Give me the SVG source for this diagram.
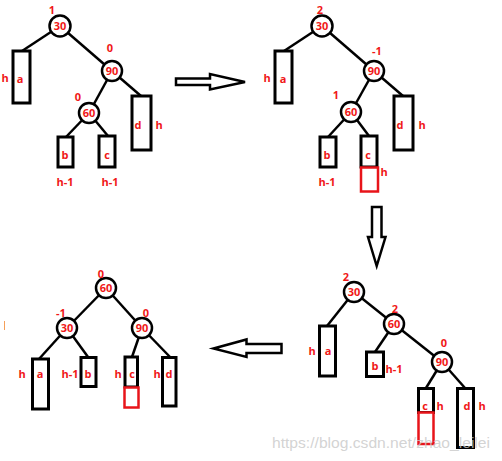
<svg xmlns="http://www.w3.org/2000/svg" width="502" height="461" viewBox="0 0 502 461">
<style>
.e{stroke:#000;stroke-width:2.5;fill:none}
.n{fill:#fff;stroke:#000;stroke-width:2.5}
.r{fill:#fff;stroke:#000;stroke-width:3}
.rr{fill:#fff;stroke:#e8141a;stroke-width:2.5}
.t{font-family:"Open Sans","Noto Sans",sans-serif;font-weight:bold;font-size:11px;fill:#f01818;text-anchor:middle}
.ar{fill:#fff;stroke:#000;stroke-width:2.5;stroke-linejoin:miter}
.wm{font-family:"Liberation Sans",Arial,sans-serif;font-size:15px;fill:#c8c8c8;fill-opacity:0.8}
</style>
<rect width="502" height="461" fill="#fff"/>
<g id="connectors">
<line class="e" x1="60" y1="26" x2="22" y2="51"/>
<line class="e" x1="60" y1="26" x2="112" y2="71"/>
<line class="e" x1="112" y1="71" x2="141" y2="96"/>
<line class="e" x1="112" y1="71" x2="89" y2="113"/>
<line class="e" x1="89" y1="113" x2="66" y2="137"/>
<line class="e" x1="89" y1="113" x2="108" y2="136"/>
<line class="e" x1="322" y1="26" x2="284" y2="51"/>
<line class="e" x1="322" y1="26" x2="374" y2="71"/>
<line class="e" x1="374" y1="71" x2="403" y2="96"/>
<line class="e" x1="374" y1="71" x2="351" y2="112"/>
<line class="e" x1="351" y1="112" x2="328" y2="137"/>
<line class="e" x1="351" y1="112" x2="369" y2="136"/>
<line class="e" x1="354" y1="292" x2="327" y2="326"/>
<line class="e" x1="354" y1="292" x2="394" y2="324"/>
<line class="e" x1="394" y1="324" x2="375" y2="352"/>
<line class="e" x1="394" y1="324" x2="442" y2="362"/>
<line class="e" x1="442" y1="362" x2="426" y2="388"/>
<line class="e" x1="442" y1="362" x2="465" y2="388"/>
<line class="e" x1="106" y1="288" x2="67" y2="328"/>
<line class="e" x1="106" y1="288" x2="142" y2="328"/>
<line class="e" x1="67" y1="328" x2="39" y2="359"/>
<line class="e" x1="67" y1="328" x2="88" y2="357"/>
<line class="e" x1="142" y1="328" x2="132" y2="357"/>
<line class="e" x1="142" y1="328" x2="170" y2="357"/>
</g>
<g id="tree1">
<g id="t1-n30"><circle class="n" cx="60" cy="26" r="10.5"/><text class="t" x="60" y="30">30</text><text class="t" x="52" y="14">1</text></g>
<g id="t1-n90"><circle class="n" cx="112" cy="71" r="10"/><text class="t" x="112" y="75">90</text><text class="t" x="110" y="52">0</text></g>
<g id="t1-n60"><circle class="n" cx="89" cy="113" r="10"/><text class="t" x="89" y="117">60</text><text class="t" x="78" y="101">0</text></g>
<g id="t1-a"><rect class="r" x="13" y="51" width="17" height="52"/><text class="t" x="20" y="83">a</text><text class="t" x="5" y="82">h</text></g>
<g id="t1-d"><rect class="r" x="132" y="96" width="19" height="54"/><text class="t" x="138" y="129">d</text><text class="t" x="159" y="129">h</text></g>
<g id="t1-b"><rect class="r" x="58" y="137" width="15" height="30"/><text class="t" x="65" y="159">b</text><text class="t" x="65" y="186">h-1</text></g>
<g id="t1-c"><rect class="r" x="99" y="136" width="16" height="31"/><text class="t" x="107" y="159">c</text><text class="t" x="110" y="186">h-1</text></g>
</g>
<g id="tree2">
<g id="t2-n30"><circle class="n" cx="322" cy="26" r="10.5"/><text class="t" x="322" y="30">30</text><text class="t" x="320" y="14">2</text></g>
<g id="t2-n90"><circle class="n" cx="374" cy="71" r="10"/><text class="t" x="374" y="75">90</text><text class="t" x="377" y="55">-1</text></g>
<g id="t2-n60"><circle class="n" cx="351" cy="112" r="10"/><text class="t" x="351" y="116">60</text><text class="t" x="336" y="99">1</text></g>
<g id="t2-a"><rect class="r" x="275" y="51" width="17" height="52"/><text class="t" x="283" y="83">a</text><text class="t" x="267" y="82">h</text></g>
<g id="t2-d"><rect class="r" x="394" y="96" width="19" height="54"/><text class="t" x="400" y="129">d</text><text class="t" x="422" y="129">h</text></g>
<g id="t2-b"><rect class="r" x="320" y="137" width="16" height="30"/><text class="t" x="327" y="159">b</text><text class="t" x="327" y="186">h-1</text></g>
<g id="t2-c"><rect class="r" x="361" y="136" width="16" height="31"/><text class="t" x="368" y="159">c</text></g>
<g id="t2-new"><rect class="rr" x="361" y="167.5" width="17" height="24"/><text class="t" x="384" y="176">h</text></g>
</g>
<g id="tree3">
<g id="t3-n30"><circle class="n" cx="354" cy="292" r="10"/><text class="t" x="354" y="296">30</text><text class="t" x="346" y="281">2</text></g>
<g id="t3-n60"><circle class="n" cx="394" cy="324" r="10"/><text class="t" x="394" y="328">60</text><text class="t" x="395" y="313">2</text></g>
<g id="t3-n90"><circle class="n" cx="442" cy="362" r="10"/><text class="t" x="442" y="366">90</text><text class="t" x="444" y="347">0</text></g>
<g id="t3-a"><rect class="r" x="319.5" y="326" width="16" height="50"/><text class="t" x="328" y="355">a</text><text class="t" x="312" y="355">h</text></g>
<g id="t3-b"><rect class="r" x="366.5" y="352" width="17" height="24.5"/><text class="t" x="375" y="370">b</text><text class="t" x="394" y="373">h-1</text></g>
<g id="t3-c"><rect class="r" x="418.5" y="388.5" width="15" height="24"/><text class="t" x="425" y="410">c</text><text class="t" x="440" y="410">h</text></g>
<g id="t3-new"><rect class="rr" x="418.5" y="412.5" width="15" height="31.5"/></g>
<g id="t3-d"><rect class="r" x="457.5" y="388.5" width="16" height="59"/><text class="t" x="467" y="410">d</text><text class="t" x="482" y="410">h</text></g>
</g>
<g id="tree4">
<g id="t4-n60"><circle class="n" cx="106" cy="288" r="10"/><text class="t" x="106" y="292">60</text><text class="t" x="101" y="278">0</text></g>
<g id="t4-n30"><circle class="n" cx="67" cy="328" r="10"/><text class="t" x="67" y="332">30</text><text class="t" x="61" y="317">-1</text></g>
<g id="t4-n90"><circle class="n" cx="142" cy="328" r="10"/><text class="t" x="142" y="332">90</text><text class="t" x="146" y="317">0</text></g>
<g id="t4-a"><rect class="r" x="32.5" y="359" width="16" height="50"/><text class="t" x="40" y="378">a</text><text class="t" x="22" y="378">h</text></g>
<g id="t4-b"><rect class="r" x="81" y="357.5" width="15" height="29"/><text class="t" x="88" y="378">b</text><text class="t" x="70" y="378">h-1</text></g>
<g id="t4-c"><rect class="r" x="125" y="357" width="12.5" height="30"/><text class="t" x="132" y="378">c</text><text class="t" x="118" y="378">h</text></g>
<g id="t4-new"><rect class="rr" x="124.5" y="387.5" width="14" height="20"/></g>
<g id="t4-d"><rect class="r" x="162.5" y="357.5" width="13.5" height="48.5"/><text class="t" x="169" y="378">d</text><text class="t" x="157" y="378">h</text></g>
</g>
<g id="arrows">
<polygon class="ar" points="176,78.5 210,78.5 210,74 245,82 210,89.5 210,85 176,85"/>
<polygon class="ar" points="372,207 381.5,207 381.5,237 385.5,237 376.7,266 368,237 372,237"/>
<polygon class="ar" points="281.5,344 246.5,344 246.5,339.5 213.5,348.5 246.5,357 246.5,353 281.5,353"/>
</g>
<line x1="4.5" y1="321" x2="4.5" y2="330" stroke="#f5a05a" stroke-width="1"/>
<text class="wm" x="272" y="448" textLength="218" lengthAdjust="spacingAndGlyphs">https://blog.csdn.net/zhao_leilei</text>
</svg>
